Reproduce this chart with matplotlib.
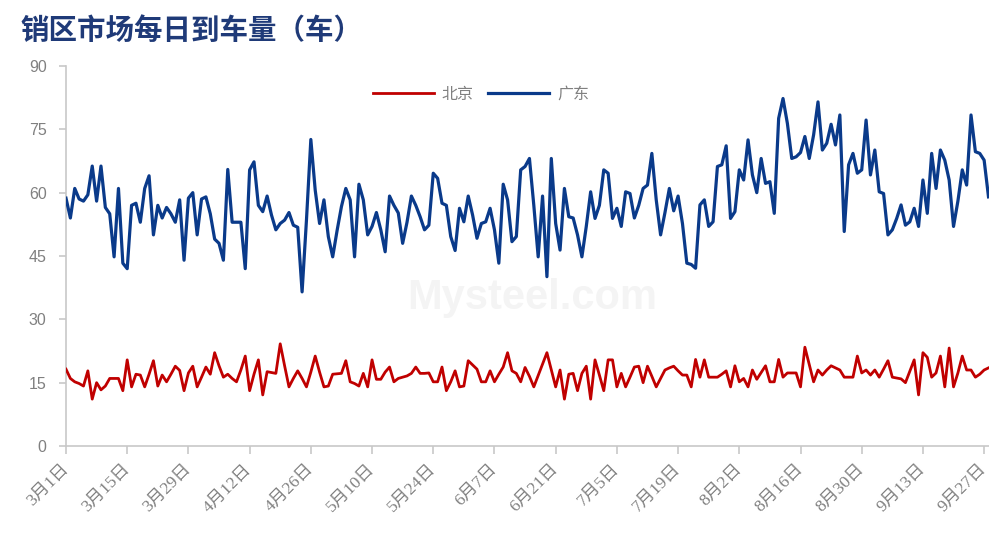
import matplotlib
matplotlib.use("Agg")
import matplotlib.pyplot as plt
import pandas as pd

start_date = "2023-03-01"
tick_step = 14

beijing = [
    18.2, 16, 15.2, 14.8, 14.2, 17.8, 11.1, 15, 13.3, 14.2, 16, 16, 16, 13.1, 20.4,
    14, 17, 16.8, 14, 17, 20.2, 14.2, 16.8, 15.2, 17, 18.9, 17.9, 13.1, 17.3, 18.9,
    14, 16.3, 18.7, 17, 22.1, 19, 16.3, 17, 16, 15.2, 18, 21.3, 13.1, 17, 20.4,
    12.1, 17.6, 17.4, 17.2, 24.2, 19, 14, 16, 17.8, 16, 14, 17.5, 21.3, 17.5, 14,
    14.2, 17, 17.1, 17.2, 20.2, 15.2, 14.8, 14.2, 17.2, 14, 20.4, 15.8, 15.8, 17.5, 18.7,
    15.2, 16, 16.3, 16.6, 17.2, 18.7, 17.2, 17.2, 17.3, 15.2, 15.2, 18.7, 13.1, 15.2, 17.8,
    14, 14.2, 20.2, 19.2, 18.2, 15.2, 15.2, 17.8, 15.2, 17, 18.7, 22.1, 17.8, 17.2, 15.2,
    18.6, 16.5, 14, 16.7, 19.4, 22.1, 18, 14, 18, 11.1, 17, 17.2, 13.1, 17.2, 18.9,
    11.1, 20.4, 16.8, 13.1, 20.4, 20.4, 14, 17.2, 14, 16.3, 18.7, 18.9, 15, 18.9, 16.5,
    14, 16, 18, 18.5, 18.9, 17.8, 16.8, 16.8, 14, 20.5, 16.3, 20.4, 16.3, 16.3, 16.3,
    17, 17.8, 14, 19, 15.2, 16, 14, 18, 15.8, 17.4, 19, 15.2, 15.2, 20.5, 16.3,
    17.3, 17.3, 17.3, 14, 23.4, 19.3, 15.2, 18, 16.8, 18, 19, 18.5, 18, 16.3, 16.3,
    16.3, 21.3, 17.3, 18, 16.8, 18, 16.3, 18.2, 20.2, 16.3, 16.1, 15.9, 15, 17.7, 20.4,
    12.1, 22.1, 21, 16.3, 17.3, 21.3, 14, 23.2, 14, 17.3, 21.3, 18, 18, 16.3, 17, 18, 18.5,
]

guangdong = [
    58.7, 54, 61, 58.5, 58, 59.5, 66.3, 58, 66.3, 56.5, 55, 44.8, 61, 43.3, 42,
    57, 57.5, 53, 61, 64, 50, 57, 54, 56.5, 55, 53, 58.3, 44, 58.7, 60,
    50, 58.5, 59, 55, 49, 48, 44, 65.5, 53, 53, 53, 42, 65.4, 67.3, 57,
    55.5, 59.2, 54.7, 51.2, 52.7, 53.5, 55.3, 52.3, 51.8, 36.5, 53.5, 72.6, 60.6, 52.7, 58.3,
    49.6, 44.8, 51, 56.7, 61, 58.3, 44.8, 62, 58.3, 50, 52, 55.3, 51.2, 46, 59.2,
    57, 55.2, 48, 53, 59.2, 57, 54.3, 51.2, 52.3, 64.6, 63.4, 57.5, 57, 49.6, 46.3,
    56.3, 53.1, 59.2, 54.7, 49.2, 52.7, 53.1, 56.3, 51.2, 43.3, 62, 58.3, 48.4, 49.6, 65.4,
    66.2, 68.1, 57, 44.8, 59.2, 40.1, 68.1, 52.7, 46.4, 61, 54.3, 54, 50, 44.8, 52,
    60.2, 53.9, 57, 65.4, 64.6, 53.9, 56.3, 52, 60.2, 59.8, 54, 57, 61, 61.8, 69.3,
    58.3, 50, 55.3, 61, 55.7, 59.2, 52.7, 43.3, 43, 42.1, 57.1, 58.3, 52, 53.1, 66.2,
    66.6, 71.1, 53.9, 55.5, 65.4, 63, 72.5, 64.2, 60, 68.1, 62.2, 62.6, 55.1, 77.6, 82.3,
    76.4, 68.1, 68.5, 69.5, 73.3, 68.1, 73.7, 81.5, 70.1, 71.7, 76.2, 71.3, 78.4, 50.8, 66.6,
    69.3, 64.6, 65.4, 77.2, 64.2, 70.1, 60.2, 59.8, 50, 51.2, 53.9, 57.1, 52.3, 53.1, 56.3,
    52, 63, 55.1, 69.3, 61, 70.1, 67.7, 63, 52, 58, 65.4, 61.8, 78.4, 69.7, 69.3, 67.7, 59,
]

series_names = ["北京", "广东"]
y_ticks = [0, 15, 30, 45, 60, 75, 90]
title = "销区市场每日到车量（车）"
watermark = "Mysteel.com"

dates = pd.date_range(start_date, periods=len(guangdong), freq="D")
x = list(range(len(dates)))
tick_pos = x[::tick_step]
tick_labels = [f"{d.month}月{d.day}日" for d in dates[::tick_step]]

plt.rcParams["font.family"] = ["Noto Sans CJK SC", "DejaVu Sans"]

fig = plt.figure(figsize=(9.89, 5.40), dpi=100)
ax = fig.add_axes([66 / 989, 1 - 446 / 540, 1 - 66 / 989 - 0.0005, (446 - 66) / 540])

# faint watermark
ax.text(0.505, 0.39, watermark, transform=ax.transAxes, fontsize=30, fontweight="bold",
        color="#f4f4f4", ha="center", va="center", family=["Liberation Sans", "DejaVu Sans"], zorder=0)

ax.plot(x, beijing, color="#c00000", lw=2.0, label=series_names[0], solid_joinstyle="round", zorder=3)
ax.plot(x, guangdong, color="#0a3a8a", lw=2.3, label=series_names[1], solid_joinstyle="round", zorder=3)

ax.set_xlim(0, len(x) - 1)
ax.set_ylim(0, 90)
ax.set_yticks(y_ticks)
ax.set_yticklabels([str(v) for v in y_ticks], family=["Liberation Sans", "DejaVu Sans"],
                   fontsize=11.5, color="#808080")
ax.set_xticks(tick_pos)
ax.set_xticklabels(tick_labels, rotation=45, ha="right", va="center", rotation_mode="anchor",
                   family=["Liberation Serif", "Noto Sans CJK SC"], fontsize=12.5, color="#808080")

for s in ["top", "right"]:
    ax.spines[s].set_visible(False)
for s in ["left", "bottom"]:
    ax.spines[s].set_color("#c8c8c8")
    ax.spines[s].set_linewidth(1.2)
ax.tick_params(axis="y", length=5, width=1.2, color="#c8c8c8", pad=9)
ax.tick_params(axis="x", length=6, width=1.2, color="#c8c8c8", pad=9)

leg = ax.legend(loc="upper center", bbox_to_anchor=(0.45, 0.985), ncol=2, frameon=False,
                fontsize=11.5, handlelength=3.8, columnspacing=0.9, handletextpad=0.5)
for t in leg.get_texts():
    t.set_color("#808080")

fig.text(20 / 989, 1 - 31 / 540, title, fontsize=20.5, fontweight="bold", color="#1f3a78",
         ha="left", va="center")

fig.savefig("out.png", dpi=100)
